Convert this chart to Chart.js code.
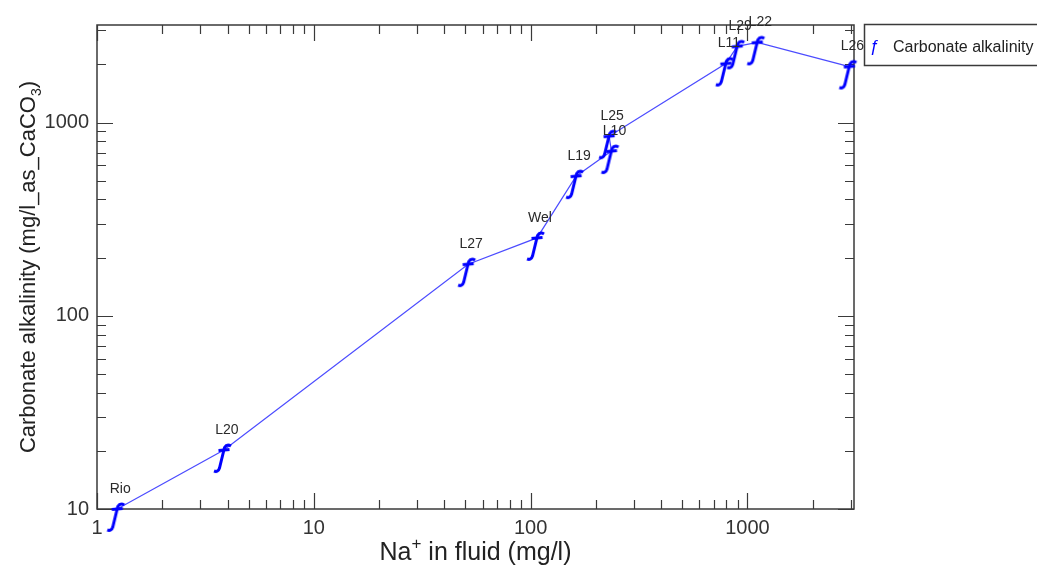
<!DOCTYPE html>
<html>
<head>
<meta charset="utf-8">
<script src="https://cdn.jsdelivr.net/npm/chart.js@4.4.0/dist/chart.umd.min.js"></script>
<style>
    html, body { margin: 0; padding: 0; background: #fff; }
</style>
</head>
<body>
<canvas id="chart" width="1037" height="568"></canvas>
<script>
// Data
const sampleNames = ['Rio', 'L20', 'L27', 'Wel', 'L19', 'L10', 'L25', 'L11', 'L29', 'L22', 'L26'];
const naValues = [1.24, 3.85, 51.5, 107, 162, 236, 230, 795, 897, 1110, 2950];
const alkValues = [10.0, 20.2, 185, 253, 528, 712, 850, 2020, 2480, 2600, 1950];
const xTickLabels = [1, 10, 100, 1000];
const yTickLabels = [10, 100, 1000];
const seriesName = 'Carbonate alkalinity';

const FONT = '"Liberation Sans", Arial, sans-serif';
const font = (size, style) => (style ? style + ' ' : '') + size + 'px ' + FONT;

// florin-like "f" marker (about 16x28 px), crossbar on the data point
function makeMarker() {
    const c = document.createElement('canvas');
    c.width = 40;
    c.height = 70;
    const g = c.getContext('2d');
    g.translate(10, 29);
    g.strokeStyle = '#0000ff';
    g.lineWidth = 3;
    g.lineJoin = 'round';
    g.beginPath();
    g.moveTo(17, 2);
    g.quadraticCurveTo(13, -0.5, 10.5, 3.5);
    g.lineTo(5.5, 24);
    g.quadraticCurveTo(4, 28.5, 0, 27);
    g.stroke();
    g.beginPath();
    g.moveTo(4.5, 6.5);
    g.lineTo(15.5, 5.5);
    g.stroke();
    return c;
}
const marker = makeMarker();

function logTicks(min, max) {
    const out = [];
    for (let d = Math.floor(Math.log10(min)); d <= Math.ceil(Math.log10(max)); d++) {
        for (let m = 1; m <= 9; m++) {
            const v = m * Math.pow(10, d);
            if (v >= min && v <= max) out.push(v);
        }
    }
    return out;
}
const isDecade = v => Math.abs(Math.log10(v) - Math.round(Math.log10(v))) < 1e-9;

function drawPieces(ctx, pieces, x) {
    // pieces: [text, size, dy]
    for (const p of pieces) {
        ctx.font = font(p[1]);
        ctx.fillText(p[0], x, p[2]);
        x += ctx.measureText(p[0]).width;
    }
}
function piecesWidth(ctx, pieces) {
    let w = 0;
    for (const p of pieces) {
        ctx.font = font(p[1]);
        w += ctx.measureText(p[0]).width;
    }
    return w;
}

const framePlugin = {
    id: 'frame',
    beforeDatasetsDraw(chart) {
        const { ctx, chartArea: a, scales: { x, y } } = chart;
        ctx.save();
        ctx.strokeStyle = '#3a3a3a';
        ctx.lineWidth = 1.5;
        ctx.strokeRect(a.left, a.top, a.right - a.left, a.bottom - a.top);

        // inward ticks on all four sides
        ctx.lineWidth = 1.2;
        ctx.beginPath();
        for (const v of logTicks(x.min, x.max)) {
            const px = Math.round(x.getPixelForValue(v)) + 0.5;
            const len = isDecade(v) ? 16 : 9;
            ctx.moveTo(px, a.bottom); ctx.lineTo(px, a.bottom - len);
            ctx.moveTo(px, a.top); ctx.lineTo(px, a.top + len);
        }
        for (const v of logTicks(y.min, y.max)) {
            const py = Math.round(y.getPixelForValue(v)) + 0.5;
            const len = isDecade(v) ? 16 : 9;
            ctx.moveTo(a.left, py); ctx.lineTo(a.left + len, py);
            ctx.moveTo(a.right, py); ctx.lineTo(a.right - len, py);
        }
        ctx.stroke();
        ctx.restore();
    },
    afterDraw(chart) {
        const { ctx, chartArea: a } = chart;
        ctx.save();

        // sample names above each marker
        const meta = chart.getDatasetMeta(0);
        ctx.fillStyle = '#2a2a2a';
        ctx.font = font(14);
        ctx.textAlign = 'center';
        ctx.textBaseline = 'middle';
        meta.data.forEach((pt, i) => {
            ctx.fillText(sampleNames[i], pt.x + 3, pt.y - 20);
        });

        // axis titles
        ctx.fillStyle = '#222';
        ctx.textAlign = 'left';
        ctx.textBaseline = 'alphabetic';
        const xTitle = [['Na', 25, 0], ['+', 17, -11], [' in fluid (mg/l)', 25, 0]];
        ctx.save();
        ctx.translate(0, 560);
        drawPieces(ctx, xTitle, (a.left + a.right) / 2 - piecesWidth(ctx, xTitle) / 2);
        ctx.restore();

        const yTitle = [['Carbonate alkalinity (mg/l_as_CaCO', 22, 0], ['3', 14, 6], [')', 22, 0]];
        ctx.save();
        ctx.translate(35, (a.top + a.bottom) / 2);
        ctx.rotate(-Math.PI / 2);
        drawPieces(ctx, yTitle, -piecesWidth(ctx, yTitle) / 2);
        ctx.restore();

        // legend box
        ctx.strokeStyle = '#3a3a3a';
        ctx.lineWidth = 1.5;
        ctx.strokeRect(864.5, 24.5, 240, 41);
        ctx.fillStyle = '#0000ff';
        ctx.font = font(17, 'italic');
        ctx.textAlign = 'center';
        ctx.fillText('\u0192', 874, 52);
        ctx.fillStyle = '#222';
        ctx.font = font(16);
        ctx.textAlign = 'left';
        ctx.fillText(chart.data.datasets[0].label, 893, 52);

        ctx.restore();
    }
};

const tickFont = { family: FONT, size: 20 };

new Chart(document.getElementById('chart'), {
    type: 'scatter',
    data: {
        datasets: [{
            label: seriesName,
            data: naValues.map((v, i) => ({ x: v, y: alkValues[i] })),
            showLine: true,
            borderColor: 'rgba(55,55,255,0.9)',
            borderWidth: 1.2,
            pointStyle: marker,
            pointRadius: 14,
            clip: false
        }]
    },
    options: {
        responsive: false,
        animation: false,
        devicePixelRatio: 1,
        layout: { padding: { left: 0, top: 25, right: 183, bottom: 0 } },
        plugins: {
            legend: { display: false },
            tooltip: { enabled: false }
        },
        scales: {
            x: {
                type: 'logarithmic',
                min: 1,
                max: 3100,
                grid: { display: false, drawTicks: false },
                border: { display: false },
                ticks: {
                    autoSkip: false,
                    maxRotation: 0,
                    padding: 7,
                    color: '#333',
                    font: tickFont,
                    callback: v => xTickLabels.includes(v) ? String(v) : ''
                },
                afterFit: s => { s.height = 59; }
            },
            y: {
                type: 'logarithmic',
                min: 10,
                max: 3200,
                grid: { display: false, drawTicks: false },
                border: { display: false },
                ticks: {
                    autoSkip: false,
                    padding: 8,
                    color: '#333',
                    font: tickFont,
                    callback: v => yTickLabels.includes(v) ? String(v) : ''
                },
                afterFit: s => { s.width = 97; }
            }
        }
    },
    plugins: [framePlugin]
});
</script>
</body>
</html>
